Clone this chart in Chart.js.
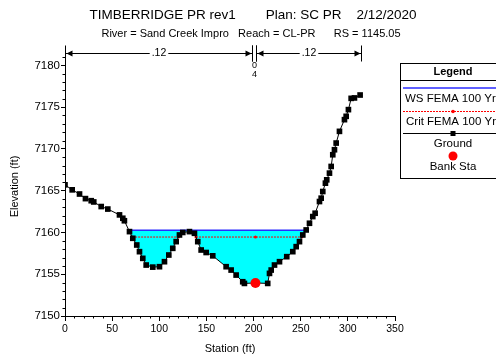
<!DOCTYPE html>
<html>
<head>
<meta charset="utf-8">
<script src="https://cdn.jsdelivr.net/npm/chart.js@4"></script>
<style>
  html, body { margin: 0; padding: 0; background: #fff; }
</style>
</head>
<body>
<canvas id="xsChart" width="496" height="356"></canvas>
<script>
// Ground profile (station ft, elevation ft)
const stations = [0, 7.6, 15.4, 21.7, 27.8, 30.5, 38.4, 45.4, 57.8, 61.3, 63, 68.4, 71.9, 76.1, 79, 82.5, 86.1, 93.1,
  100.2, 105.5, 110.1, 114.3, 117.9, 121.4, 124.9, 132, 137.3, 140.8, 144.4, 149.7, 156.7, 170.9, 176.2, 181.5,
  188.5, 190.3, 202, 215, 216.9, 218.7, 222.2, 227.5, 235.2, 241.6, 245.2, 248.7, 252.2, 255.8, 259.3, 262.8,
  265.3, 269.9, 271.7, 273.4, 276.2, 277.6, 280.5, 282.3, 284, 285.8, 287.6, 291.1, 296.4, 298.2, 300.6, 303.5,
  307, 313];
const elevations = [7165.7, 7165.1, 7164.6, 7164.05, 7163.8, 7163.65, 7163.1, 7162.8, 7162.1, 7161.7, 7161.4,
  7160.1, 7159.3, 7158.5, 7157.7, 7156.9, 7156.1, 7155.85, 7155.9, 7156.5, 7157.3, 7158.1, 7158.9, 7159.7,
  7160.0, 7160.1, 7159.9, 7158.9, 7157.9, 7157.6, 7157.2, 7155.9, 7155.5, 7154.9, 7154.1, 7153.9, 7153.95,
  7153.9, 7155.1, 7155.5, 7156.1, 7156.5, 7157.1, 7157.7, 7158.3, 7158.9, 7159.7, 7160.3, 7161.1, 7161.9,
  7162.3, 7163.7, 7164.1, 7164.9, 7165.9, 7166.3, 7167.1, 7167.9, 7169.3, 7169.9, 7170.7, 7172.1, 7173.5,
  7173.9, 7174.7, 7176.05, 7176.1, 7176.45];

const bankStations = [202];
const bankElevations = [7153.95];

// Water surface (WS FEMA 100 Yr)
const wsStations = [67.8, 255.2];
const wsElevations = [7160.25, 7160.25];

// Critical depth (Crit FEMA 100 Yr)
const critStations = [71.2, 120.3, 129, 138.9, 202, 251.1];
const critElevations = [7159.45, 7159.45, null, 7159.45, 7159.45, 7159.45];

// Manning's n breaks
const nStations = [0, 198.3, 203, 314];
const nLabels = ['.12', '.04', '.12'];

const xTicks = [0, 50, 100, 150, 200, 250, 300, 350];
const yTicks = [7150, 7155, 7160, 7165, 7170, 7175, 7180];

const titleText = 'TIMBERRIDGE PR rev1        Plan: SC PR    2/12/2020';
const subtitleText = 'River = Sand Creek Impro   Reach = CL-PR      RS = 1145.05';

const FONT = "'Liberation Sans', Arial, Helvetica, sans-serif";

const pts = (xs, ys) => xs.map((x, i) => ({ x: x, y: ys[i] }));

// title lines, centred on the whole picture
const headings = {
  id: 'headings',
  afterDraw(chart) {
    const { ctx } = chart;
    ctx.save();
    ctx.fillStyle = '#000';
    ctx.textAlign = 'center';
    ctx.textBaseline = 'middle';
    ctx.font = '13.5px ' + FONT;
    ctx.fillText(titleText, 253, 15.5);
    ctx.font = '11px ' + FONT;
    ctx.fillText(subtitleText, 251, 34);
    ctx.restore();
  }
};

// small ticks between the labelled ones
const minorTicks = {
  id: 'minorTicks',
  afterDraw(chart) {
    const { ctx, scales: { x, y } } = chart;
    ctx.save();
    ctx.strokeStyle = '#000';
    ctx.lineWidth = 1;
    ctx.beginPath();
    for (let v = y.min; v <= y.max; v++) {
      if (v % 5 === 0) continue;
      const py = Math.round(y.getPixelForValue(v)) + 0.5;
      ctx.moveTo(x.left - 2.5, py);
      ctx.lineTo(x.left, py);
    }
    for (let v = 0; v <= x.max; v += 10) {
      if (v % 50 === 0) continue;
      const px = Math.round(x.getPixelForValue(v)) + 0.5;
      ctx.moveTo(px, y.bottom);
      ctx.lineTo(px, y.bottom + 2.5);
    }
    ctx.stroke();
    ctx.restore();
  }
};

// Manning's n arrows across the top
const nValues = {
  id: 'nValues',
  afterDraw(chart) {
    const { ctx, scales: { x } } = chart;
    const yl = 53.5;
    ctx.save();
    ctx.strokeStyle = '#000';
    ctx.fillStyle = '#000';
    ctx.lineWidth = 1;
    ctx.font = '10.5px ' + FONT;
    ctx.textAlign = 'center';
    ctx.textBaseline = 'middle';
    for (let i = 0; i < nLabels.length; i++) {
      const x0 = Math.round(x.getPixelForValue(nStations[i])) + 0.5;
      const x1 = Math.round(x.getPixelForValue(nStations[i + 1])) + 0.5;
      ctx.beginPath();
      ctx.moveTo(x0, yl - 8); ctx.lineTo(x0, yl + 8);
      ctx.moveTo(x1, yl - 8); ctx.lineTo(x1, yl + 8);
      ctx.stroke();
      if (x1 - x0 < 20) {
        ctx.font = '9px ' + FONT;
        ctx.fillText('0', (x0 + x1) / 2, yl + 12);
        ctx.fillText('4', (x0 + x1) / 2, yl + 21);
        ctx.font = '10.5px ' + FONT;
        continue;
      }
      ctx.beginPath();
      ctx.moveTo(x0, yl); ctx.lineTo(x1, yl);
      ctx.stroke();
      ctx.beginPath();
      ctx.moveTo(x0 + 1, yl); ctx.lineTo(x0 + 7, yl - 3); ctx.lineTo(x0 + 7, yl + 3); ctx.closePath();
      ctx.moveTo(x1 - 1, yl); ctx.lineTo(x1 - 7, yl - 3); ctx.lineTo(x1 - 7, yl + 3); ctx.closePath();
      ctx.fill();
      const mid = (x0 + x1) / 2;
      const w = ctx.measureText(nLabels[i]).width + 4;
      ctx.fillStyle = '#fff';
      ctx.fillRect(mid - w / 2, yl - 5, w, 10);
      ctx.fillStyle = '#000';
      ctx.fillText(nLabels[i], mid, yl);
    }
    ctx.restore();
  }
};

// boxed legend on the right (runs off the canvas edge like the original)
const boxLegend = {
  id: 'boxLegend',
  afterDraw(chart) {
    const { ctx } = chart;
    const bx = 400.5, by = 63.5, bw = 120, bh = 115;
    const cx = 453;
    ctx.save();
    ctx.strokeStyle = '#000';
    ctx.lineWidth = 1;
    ctx.strokeRect(bx, by, bw, bh);
    ctx.beginPath();
    ctx.moveTo(bx, 80.5); ctx.lineTo(bx + bw, 80.5);
    ctx.stroke();
    ctx.fillStyle = '#000';
    ctx.textBaseline = 'middle';
    ctx.textAlign = 'center';
    ctx.font = 'bold 11px ' + FONT;
    ctx.fillText('Legend', cx, 72);

    ctx.font = '11.5px ' + FONT;
    // WS
    ctx.strokeStyle = '#2b2bff';
    ctx.lineWidth = 1.5;
    ctx.beginPath(); ctx.moveTo(403, 88); ctx.lineTo(bx + bw, 88); ctx.stroke();
    ctx.textAlign = 'left';
    ctx.fillText('WS FEMA 100 Yr', 405, 99);
    // Crit
    ctx.strokeStyle = '#ff0000';
    ctx.lineWidth = 1;
    ctx.setLineDash([2, 1]);
    ctx.beginPath(); ctx.moveTo(403, 111.5); ctx.lineTo(bx + bw, 111.5); ctx.stroke();
    ctx.setLineDash([]);
    ctx.fillStyle = '#ff0000';
    ctx.beginPath(); ctx.arc(cx, 111.5, 1.8, 0, Math.PI * 2); ctx.fill();
    ctx.fillStyle = '#000';
    ctx.fillText('Crit FEMA 100 Yr', 406, 122);
    // Ground
    ctx.strokeStyle = '#000';
    ctx.beginPath(); ctx.moveTo(403, 133.5); ctx.lineTo(bx + bw, 133.5); ctx.stroke();
    ctx.fillRect(cx - 2.5, 131, 5, 5);
    ctx.textAlign = 'center';
    ctx.fillText('Ground', cx, 144);
    // Bank Sta
    ctx.fillStyle = '#ff0000';
    ctx.beginPath(); ctx.arc(cx, 156, 4.5, 0, Math.PI * 2); ctx.fill();
    ctx.fillStyle = '#000';
    ctx.fillText('Bank Sta', cx, 167);
    ctx.restore();
  }
};

new Chart(document.getElementById('xsChart'), {
  type: 'scatter',
  data: {
    datasets: [
      {
        label: 'Bank Sta',
        data: pts(bankStations, bankElevations),
        showLine: false,
        pointStyle: 'circle',
        pointRadius: 5,
        backgroundColor: '#ff0000',
        borderColor: '#ff0000',
        borderWidth: 0
      },
      {
        label: 'Ground',
        data: pts(stations, elevations),
        showLine: true,
        borderColor: '#000',
        borderWidth: 1,
        pointStyle: 'rect',
        pointRadius: 4,
        backgroundColor: '#000',
        pointBorderWidth: 0
      },
      {
        label: 'Crit FEMA 100 Yr',
        data: pts(critStations, critElevations),
        showLine: true,
        spanGaps: false,
        borderColor: '#ff0000',
        borderWidth: 1,
        borderDash: [2, 1],
        pointRadius: 1.5,
        backgroundColor: '#ff0000',
        pointBorderWidth: 0
      },
      {
        label: 'WS FEMA 100 Yr',
        data: pts(wsStations, wsElevations),
        showLine: true,
        borderColor: '#2b2bff',
        borderWidth: 1.5,
        pointRadius: 0,
        backgroundColor: '#00ffff',
        fill: { target: 1, above: '#00ffff', below: 'rgba(0,0,0,0)' }
      }
    ]
  },
  options: {
    responsive: false,
    animation: false,
    layout: { padding: { left: 0, right: 101, top: 57, bottom: 0 } },
    plugins: {
      legend: { display: false },
      tooltip: { enabled: false },
      title: { display: false }
    },
    scales: {
      x: {
        type: 'linear',
        min: 0,
        max: 350,
        afterBuildTicks(s) { s.ticks = xTicks.map(v => ({ value: v })); },
        ticks: { color: '#000', font: { family: FONT, size: 10.5 }, padding: 2, maxRotation: 0, autoSkip: false },
        grid: { drawOnChartArea: false, tickLength: 5, tickColor: '#000' },
        border: { color: '#000', width: 1 },
        title: { display: true, text: 'Station (ft)', color: '#000', font: { family: FONT, size: 11 }, padding: { top: 0, bottom: 0 } },
        afterFit(s) { s.height = 40; s.paddingLeft = 0; s.paddingRight = 0; }
      },
      y: {
        type: 'linear',
        min: 7150,
        max: 7181,
        afterBuildTicks(s) { s.ticks = yTicks.map(v => ({ value: v })); },
        ticks: { color: '#000', font: { family: FONT, size: 11.5 }, padding: 1, autoSkip: false, callback: v => String(v) },
        grid: { drawOnChartArea: false, tickLength: 4, tickColor: '#000' },
        border: { color: '#000', width: 1 },
        title: { display: true, text: 'Elevation (ft)', color: '#000', font: { family: FONT, size: 11 }, padding: { top: 8, bottom: 0 } },
        afterFit(s) { s.width = 65; s.paddingTop = 0; s.paddingBottom = 0; }
      }
    }
  },
  plugins: [minorTicks, nValues, boxLegend, headings]
});
</script>
</body>
</html>
